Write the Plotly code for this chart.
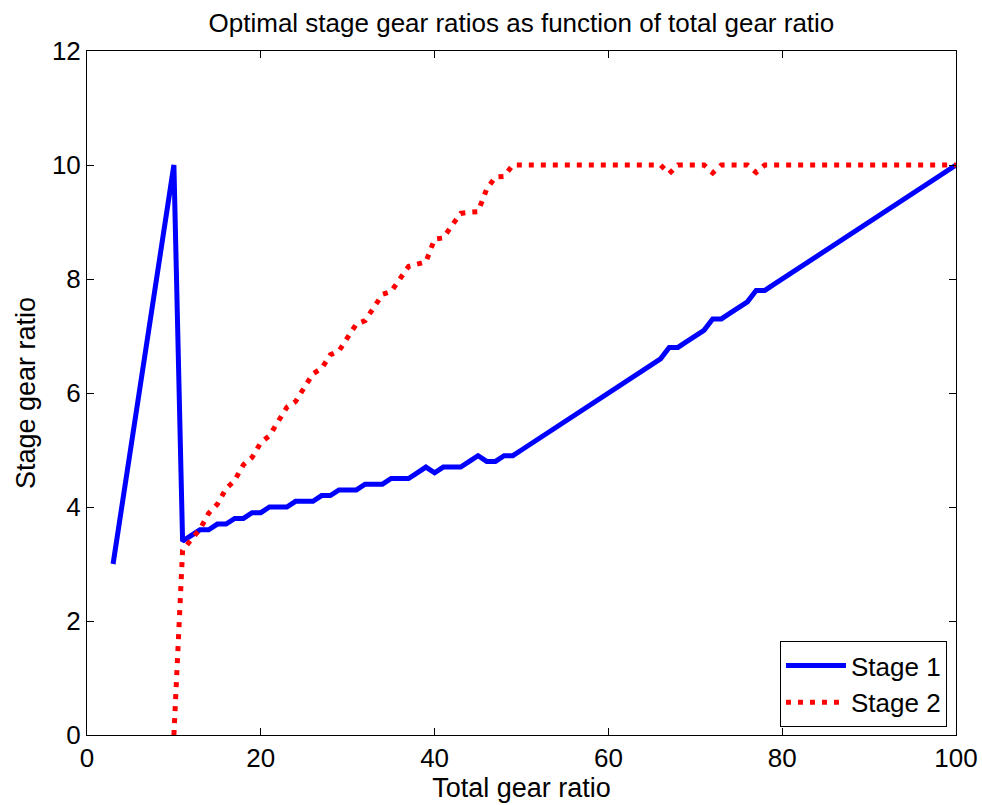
import plotly.graph_objects as go

# ---- data ----
total_ratio_s1 = [3, 4, 5, 6, 7, 8, 9, 10,
                  11, 12, 13, 14, 15, 16, 17, 18, 19, 20,
                  21, 22, 23, 24, 25, 26, 27, 28, 29, 30,
                  31, 32, 33, 34, 35, 36, 37, 38, 39, 40,
                  41, 42, 43, 44, 45, 46, 47, 48, 49, 50,
                  51, 52, 53, 54, 55, 56, 57, 58, 59, 60,
                  61, 62, 63, 64, 65, 66, 67, 68, 69, 70,
                  71, 72, 73, 74, 75, 76, 77, 78, 79, 80,
                  81, 82, 83, 84, 85, 86, 87, 88, 89, 90,
                  91, 92, 93, 94, 95, 96, 97, 98, 99, 100]
stage1 = [3, 4, 5, 6, 7, 8, 9, 10,
          3.4, 3.5, 3.6, 3.6, 3.7, 3.7, 3.8, 3.8, 3.9, 3.9,
          4.0, 4.0, 4.0, 4.1, 4.1, 4.1, 4.2, 4.2, 4.3, 4.3,
          4.3, 4.4, 4.4, 4.4, 4.5, 4.5, 4.5, 4.6, 4.7, 4.6,
          4.7, 4.7, 4.7, 4.8, 4.9, 4.8, 4.8, 4.9, 4.9, 5.0,
          5.1, 5.2, 5.3, 5.4, 5.5, 5.6, 5.7, 5.8, 5.9, 6.0,
          6.1, 6.2, 6.3, 6.4, 6.5, 6.6, 6.8, 6.8, 6.9, 7.0,
          7.1, 7.3, 7.3, 7.4, 7.5, 7.6, 7.8, 7.8, 7.9, 8.0,
          8.1, 8.2, 8.3, 8.4, 8.5, 8.6, 8.7, 8.8, 8.9, 9.0,
          9.1, 9.2, 9.3, 9.4, 9.5, 9.6, 9.7, 9.8, 9.9, 10.0]

total_ratio_s2 = [10,
                  11, 12, 13, 14, 15, 16, 17, 18, 19, 20,
                  21, 22, 23, 24, 25, 26, 27, 28, 29, 30,
                  31, 32, 33, 34, 35, 36, 37, 38, 39, 40,
                  41, 42, 43, 44, 45, 46, 47, 48, 49, 50,
                  51, 52, 53, 54, 55, 56, 57, 58, 59, 60,
                  61, 62, 63, 64, 65, 66, 67, 68, 69, 70,
                  71, 72, 73, 74, 75, 76, 77, 78, 79, 80,
                  81, 82, 83, 84, 85, 86, 87, 88, 89, 90,
                  91, 92, 93, 94, 95, 96, 97, 98, 99, 100]
stage2 = [0,
          3.24, 3.43, 3.61, 3.89, 4.05, 4.32, 4.47, 4.74, 4.87, 5.13,
          5.25, 5.50, 5.75, 5.85, 6.10, 6.34, 6.43, 6.67, 6.74, 6.98,
          7.21, 7.27, 7.50, 7.73, 7.78, 8.00, 8.22, 8.26, 8.30, 8.70,
          8.72, 8.94, 9.15, 9.17, 9.18, 9.58, 9.79, 9.80, 10, 10,
          10, 10, 10, 10, 10, 10, 10, 10, 10, 10,
          10, 10, 10, 10, 10, 10, 9.85, 10, 10, 10,
          10, 9.86, 10, 10, 10, 10, 9.87, 10, 10, 10,
          10, 10, 10, 10, 10, 10, 10, 10, 10, 10,
          10, 10, 10, 10, 10, 10, 10, 10, 10, 10]

x_ticks = [0, 20, 40, 60, 80, 100]
y_ticks = [0, 2, 4, 6, 8, 10, 12]

FONT = "Liberation Sans, Arial, Helvetica, sans-serif"

fig = go.Figure()
fig.add_trace(go.Scatter(x=total_ratio_s1, y=stage1, mode="lines", name="Stage 1",
                         line=dict(color="#0000FF", width=5)))
fig.add_trace(go.Scatter(x=total_ratio_s2, y=stage2, mode="lines", name="Stage 2",
                         line=dict(color="#FF0000", width=5, dash="5px,7px")))

axis_common = dict(showline=True, linecolor="black", linewidth=1, mirror="ticks",
                   ticks="inside", ticklen=7, tickcolor="black", tickwidth=1,
                   showgrid=False, zeroline=False, automargin=False,
                   tickfont=dict(family=FONT, size=26, color="black"))

fig.update_layout(
    width=982, height=805,
    margin=dict(l=87, r=26, t=51, b=70, pad=0),
    paper_bgcolor="white", plot_bgcolor="white",
    font=dict(family=FONT, color="black"),
    title=dict(text="Optimal stage gear ratios as function of total gear ratio",
               x=0.531, xanchor="center", y=0.972, yanchor="middle",
               font=dict(family=FONT, size=26, color="black")),
    xaxis=dict(range=[0, 100], tickvals=x_ticks,
               title=dict(text="Total gear ratio", font=dict(family=FONT, size=27), standoff=2),
               **axis_common),
    yaxis=dict(range=[0, 12], tickvals=y_ticks,
               title=dict(text="Stage gear ratio", font=dict(family=FONT, size=27), standoff=8),
               **axis_common),
    legend=dict(x=0.9896, xanchor="right", y=0.0117, yanchor="bottom",
                bgcolor="white", bordercolor="black", borderwidth=1,
                font=dict(family=FONT, size=26, color="black"),
                itemwidth=60, tracegroupgap=0),
    showlegend=True,
)

fig.write_html("out.html")
